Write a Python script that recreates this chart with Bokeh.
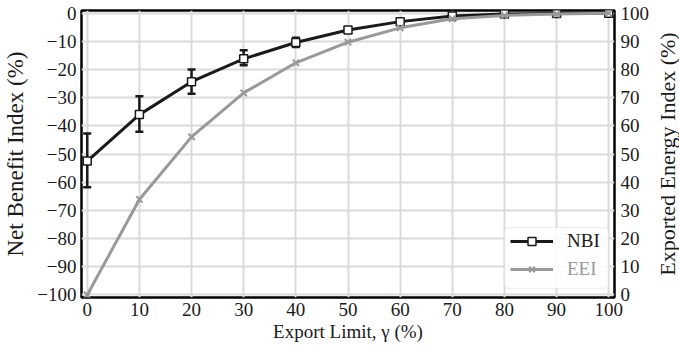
import math
from bokeh.plotting import figure
from bokeh.layouts import row
from bokeh.models import (Range1d, LinearAxis, FixedTicker, Whisker, ColumnDataSource,
                          Legend, LegendItem, BoxAnnotation, TeeHead, Label)
from bokeh.embed import file_html
from bokeh.resources import INLINE

# ---- data ----
export_limit = [0, 10, 20, 30, 40, 50, 60, 70, 80, 90, 100]
nbi = [-52.5, -36.0, -24.3, -16.2, -10.4, -6.0, -3.0, -1.0, -0.3, -0.1, 0.0]
nbi_upper = [-42.7, -29.5, -20.0, -13.2, -8.7, -5.1, -2.5, -0.7, -0.1, 0.0, 0.0]
nbi_lower = [-61.8, -42.1, -28.6, -18.5, -12.0, -6.9, -3.5, -1.3, -0.5, -0.2, 0.0]
eei = [0.0, 33.9, 56.1, 71.7, 82.4, 89.7, 94.8, 98.0, 99.2, 99.7, 100.0]

x_ticks = [0, 10, 20, 30, 40, 50, 60, 70, 80, 90, 100]
x_labels = ["0", "10", "20", "30", "40", "50", "60", "70", "80", "90", "100"]
left_ticks = [-100, -90, -80, -70, -60, -50, -40, -30, -20, -10, 0]
left_labels = ["\u2212100", "\u221290", "\u221280", "\u221270", "\u221260", "\u221250",
               "\u221240", "\u221230", "\u221220", "\u221210", "0"]
right_ticks = [0, 10, 20, 30, 40, 50, 60, 70, 80, 90, 100]
right_labels = ["0", "10", "20", "30", "40", "50", "60", "70", "80", "90", "100"]

FONT = "Liberation Serif"
BLACK = "#1a1a1a"
GRAY = "#999999"

p = figure(width=652, height=351, x_range=Range1d(-1.1, 101.1), y_range=Range1d(-100.9, 0.95),
           output_backend="svg", toolbar_location=None,
           min_border_left=80, min_border_right=35, min_border_top=10, min_border_bottom=54)
p.extra_y_ranges = {"eei": Range1d(-0.9, 100.95)}

p.outline_line_color = "black"
p.outline_line_width = 2.5
p.background_fill_color = "white"
p.border_fill_color = "white"

for g in (p.xgrid, p.ygrid):
    g.grid_line_color = "#dadada"
    g.grid_line_width = 2
p.xgrid.ticker = FixedTicker(ticks=x_ticks)
p.ygrid.ticker = FixedTicker(ticks=left_ticks)

def style_axis(ax, ticks, labels, standoff):
    ax.ticker = FixedTicker(ticks=ticks)
    ax.major_label_overrides = {t: l for t, l in zip(ticks, labels)}
    ax.axis_line_color = None
    ax.major_tick_line_color = None
    ax.minor_tick_line_color = None
    ax.major_tick_out = 0
    ax.major_tick_in = 0
    ax.major_label_standoff = standoff
    ax.major_label_text_font = FONT
    ax.major_label_text_font_size = "19px"
    ax.major_label_text_color = BLACK
    ax.axis_label_text_font = FONT
    ax.axis_label_text_font_style = "normal"
    ax.axis_label_text_color = BLACK

style_axis(p.xaxis[0], x_ticks, x_labels, 5)
p.xaxis[0].axis_label = "Export Limit, \u03b3 (%)"
p.xaxis[0].axis_label_text_font_size = "19px"
p.xaxis[0].axis_label_standoff = 2

style_axis(p.yaxis[0], left_ticks, left_labels, 5)
p.yaxis[0].axis_label = "Net Benefit Index (%)"
p.yaxis[0].axis_label_text_font_size = "23px"
p.yaxis[0].axis_label_standoff = 6

ax_r = LinearAxis(y_range_name="eei")
style_axis(ax_r, right_ticks, right_labels, 6)
p.add_layout(ax_r, "right")

src = ColumnDataSource(dict(x=export_limit, nbi=nbi, upper=nbi_upper, lower=nbi_lower, eei=eei))

r_nbi_line = p.line("x", "nbi", source=src, line_color=BLACK, line_width=3)
r_nbi_sq = p.scatter("x", "nbi", source=src, marker="square", size=8, line_color=BLACK,
                     fill_color="white", line_width=1.5)
wh = Whisker(base="x", upper="upper", lower="lower", source=src, line_color=BLACK, line_width=2.5,
             upper_head=TeeHead(size=8, line_width=2.5, line_color=BLACK),
             lower_head=TeeHead(size=8, line_width=2.5, line_color=BLACK))
p.add_layout(wh)
r_eei_line = p.line("x", "eei", source=src, y_range_name="eei", line_color=GRAY, line_width=3)
r_eei_x = p.scatter("x", "eei", source=src, y_range_name="eei", marker="x", size=9,
                    line_color=GRAY, line_width=2)

box = BoxAnnotation(left=423, right=527, bottom=9, top=70,
                    left_units="screen", right_units="screen", top_units="screen", bottom_units="screen",
                    fill_color="white", fill_alpha=0.85, line_color="#cccccc", line_width=1.5,
                    border_radius=4, editable=False)
p.add_layout(box)

def make_legend(label, rends, color, loc):
    lg = Legend(items=[LegendItem(label=label, renderers=rends)], location=loc,
                border_line_color=None, background_fill_alpha=0, padding=0, margin=0, spacing=0,
                glyph_width=43, glyph_height=20, label_height=20, label_standoff=14,
                label_text_font=FONT, label_text_font_size="19px", label_text_color=color)
    p.add_layout(lg)
    return lg

make_legend("NBI", [r_nbi_line, r_nbi_sq], BLACK, (429, 45))
make_legend("EEI", [r_eei_line, r_eei_x], GRAY, (429, 17))

# narrow strip on the right carrying the right-axis title, reading bottom-to-top
q = figure(width=27, height=351, x_range=Range1d(0, 1), y_range=Range1d(0, 1),
           output_backend="svg", toolbar_location=None,
           x_axis_location=None, y_axis_location=None,
           min_border_left=0, min_border_right=0, min_border_top=0, min_border_bottom=0)
q.outline_line_color = None
q.xgrid.visible = False
q.ygrid.visible = False
q.border_fill_color = "white"
right_title = Label(x=15, y=143.5, x_units="screen", y_units="screen",
                    text="Exported Energy Index (%)", angle=math.pi / 2,
                    text_align="center", text_baseline="middle",
                    text_font=FONT, text_font_size="22px", text_color=BLACK)
q.add_layout(right_title)

layout = row(p, q, spacing=0)
open("out.html", "w").write(file_html(layout, INLINE))
